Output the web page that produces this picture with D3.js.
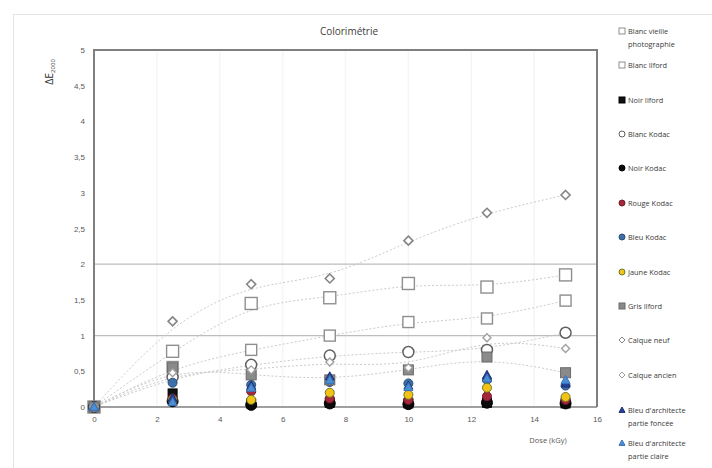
<!DOCTYPE html>
<html><head><meta charset="utf-8">
<script src="https://cdn.jsdelivr.net/npm/d3@7"></script>
<style>body{margin:0;background:#fff;} svg{display:block;font-family:"Open Sans",sans-serif;}</style>
</head><body>
<svg id="c" width="712" height="468"></svg>
<script>
const doses = [0, 2.5, 5, 7.5, 10, 12.5, 15];
const blancVieille   = [0, 0.78, 1.45, 1.53, 1.73, 1.68, 1.85];
const blancIlford    = [0, 0.56, 0.80, 1.00, 1.19, 1.24, 1.49];
const noirIlford     = [0, 0.19, 0.05, 0.06, 0.05, 0.06, 0.05];
const blancKodac     = [0, 0.42, 0.59, 0.72, 0.77, 0.80, 1.04];
const noirKodac      = [0, 0.08, 0.03, 0.05, 0.04, 0.06, 0.05];
const rougeKodac     = [0, 0.12, 0.22, 0.12, 0.10, 0.15, 0.10];
const bleuKodac      = [0, 0.34, 0.31, 0.35, 0.33, 0.38, 0.30];
const jauneKodac     = [0, 0.10, 0.10, 0.20, 0.17, 0.27, 0.14];
const grisIlford     = [0, 0.55, 0.45, 0.38, 0.52, 0.70, 0.48];
const calqueNeuf     = [0, 1.20, 1.72, 1.80, 2.33, 2.72, 2.97];
const calqueAncien   = [0, 0.48, 0.52, 0.63, 0.55, 0.97, 0.82];
const bleuArchFoncee = [0, 0.13, 0.30, 0.43, 0.30, 0.45, 0.33];
const bleuArchClaire = [0, 0.07, 0.27, 0.38, 0.28, 0.40, 0.38];

const xTicks = [0, 2, 4, 6, 8, 10, 12, 14, 16];
const yTicks = [0, 0.5, 1, 1.5, 2, 2.5, 3, 3.5, 4, 4.5, 5];

const series = [
  {name:["Blanc vieille","photographie"], v:blancVieille, shape:"square", size:12, fill:"#fff", stroke:"#8f8f8f", sw:1.4, trend:true},
  {name:["Blanc Ilford"], v:blancIlford, shape:"square", size:11, fill:"#fff", stroke:"#8f8f8f", sw:1.4, trend:true},
  {name:["Noir Ilford"], v:noirIlford, shape:"square", size:9, fill:"#111", stroke:"#000", sw:1},
  {name:["Blanc Kodac"], v:blancKodac, shape:"circle", size:11, fill:"#fff", stroke:"#606060", sw:1.5, trend:true},
  {name:["Noir Kodac"], v:noirKodac, shape:"circle", size:11, fill:"#0a0a0a", stroke:"#000", sw:1},
  {name:["Rouge Kodac"], v:rougeKodac, shape:"circle", size:9, fill:"#a3283b", stroke:"#7a1a2a", sw:1},
  {name:["Bleu Kodac"], v:bleuKodac, shape:"circle", size:9, fill:"#3d6fa8", stroke:"#2c4f78", sw:1},
  {name:["Jaune Kodac"], v:jauneKodac, shape:"circle", size:9, fill:"#f2c314", stroke:"#6b7a2a", sw:1},
  {name:["Gris Ilford"], v:grisIlford, shape:"square", size:10, fill:"#8a8a8a", stroke:"#6a6a6a", sw:1, trend:true},
  {name:["Calque neuf"], v:calqueNeuf, shape:"diamond", size:9, fill:"#fff", stroke:"#858585", sw:1.6, trend:true},
  {name:["Calque ancien"], v:calqueAncien, shape:"diamond", size:8, fill:"#fff", stroke:"#a0a0a0", sw:1.4, trend:true},
  {name:["Bleu d'architecte","partie foncée"], v:bleuArchFoncee, shape:"triangle", size:9, fill:"#27409a", stroke:"#1e3070", sw:1},
  {name:["Bleu d'architecte","partie claire"], v:bleuArchClaire, shape:"triangle", size:9, fill:"#4a8ed6", stroke:"#3a74b4", sw:1}
];
const legendY = [31, 65, 100, 134, 168, 203, 237, 272, 306, 340, 375, 410, 443];

const svg = d3.select("#c");
const L = 94, R = 597, T = 50, B = 407;
const x = d3.scaleLinear().domain([0, 16]).range([L, R]);
const y = d3.scaleLinear().domain([0, 5]).range([B, T]);

// outer chart border
svg.append("rect").attr("x", 13.5).attr("y", 14.5).attr("width", 720).attr("height", 470)
  .attr("fill", "none").attr("stroke", "#e4e4e4");

// vertical faint gridlines
svg.append("g").selectAll("line").data(xTicks.slice(1, -1)).join("line")
  .attr("x1", d => x(d)).attr("x2", d => x(d)).attr("y1", T).attr("y2", B)
  .attr("stroke", "#f5f5f5").attr("stroke-width", 1.5);
// horizontal gridlines at 1 and 2
svg.append("g").selectAll("line").data([1, 2]).join("line")
  .attr("x1", L).attr("x2", R).attr("y1", d => y(d)).attr("y2", d => y(d))
  .attr("stroke", "#bdbdbd").attr("stroke-width", 1.2);

// axes
const xAxis = d3.axisBottom(x).tickValues(xTicks).tickSize(0).tickPadding(9).tickFormat(d => d);
const gx = svg.append("g").attr("transform", `translate(0,${B})`).call(xAxis);
gx.select(".domain").remove();
gx.selectAll("text").attr("fill", "#595959").attr("font-size", 8);
const yAxis = d3.axisLeft(y).tickValues(yTicks).tickSize(0).tickPadding(9)
  .tickFormat(d => String(d).replace(".", ","));
const gy = svg.append("g").attr("transform", `translate(${L},0)`).call(yAxis);
gy.select(".domain").remove();
gy.selectAll("text").attr("fill", "#595959").attr("font-size", 8);

// trendlines
const line = d3.line().x((d, i) => x(doses[i])).y(d => y(d)).curve(d3.curveBasis);
svg.append("g").selectAll("path").data(series.filter(s => s.trend)).join("path")
  .attr("d", s => line(s.v)).attr("fill", "none").attr("stroke", "#cbcbcb")
  .attr("stroke-width", 1).attr("stroke-dasharray", "2,2");

// frame
svg.append("path").attr("d", `M${L},${B}V${T}H${R}V${B}`).attr("fill", "none")
  .attr("stroke", "#7f7f7f").attr("stroke-width", 2);
svg.append("line").attr("x1", L).attr("x2", R).attr("y1", B).attr("y2", B)
  .attr("stroke", "#7f7f7f").attr("stroke-width", 1.6);

function drawMarker(g, s, cx, cy, size) {
  let el;
  if (s.shape === "square") {
    el = g.append("rect").attr("x", cx - size / 2).attr("y", cy - size / 2).attr("width", size).attr("height", size);
  } else if (s.shape === "circle") {
    el = g.append("circle").attr("cx", cx).attr("cy", cy).attr("r", size / 2);
  } else if (s.shape === "diamond") {
    const h = size / 2;
    el = g.append("path").attr("d", `M${cx},${cy - h}L${cx + h},${cy}L${cx},${cy + h}L${cx - h},${cy}Z`);
  } else {
    const h = size / 2;
    el = g.append("path").attr("d", `M${cx},${cy - h}L${cx + h},${cy + h * 0.8}L${cx - h},${cy + h * 0.8}Z`);
  }
  el.attr("fill", s.fill).attr("stroke", s.stroke).attr("stroke-width", s.sw);
}

// markers
const gm = svg.append("g");
series.forEach(s => {
  s.v.forEach((v, i) => drawMarker(gm, s, x(doses[i]), y(v), s.size));
});

// title
svg.append("text").attr("x", 349).attr("y", 35).attr("text-anchor", "middle")
  .attr("font-size", 10).attr("fill", "#404040").text("Colorimétrie");

// x axis title
svg.append("text").attr("x", 548).attr("y", 443).attr("text-anchor", "middle")
  .attr("font-size", 7.5).attr("fill", "#595959").text("Dose (kGy)");

// y axis title
const yt = svg.append("text").attr("transform", "translate(53,72) rotate(-90)")
  .attr("text-anchor", "middle").attr("font-size", 10.5).attr("fill", "#333");
yt.append("tspan").text("ΔE");
yt.append("tspan").attr("font-size", 6).attr("dy", 2).text("2000");

// legend
const gl = svg.append("g");
series.forEach((s, i) => {
  const ly = legendY[i];
  drawMarker(gl, Object.assign({}, s, {sw: Math.min(s.sw, 1)}), 622, ly, 6);
  s.name.forEach((t, j) => {
    gl.append("text").attr("x", 628).attr("y", ly + 2.5 + j * 13).attr("font-size", 7.4)
      .attr("fill", "#3a3a3a").text(t);
  });
});
</script>
</body></html>
